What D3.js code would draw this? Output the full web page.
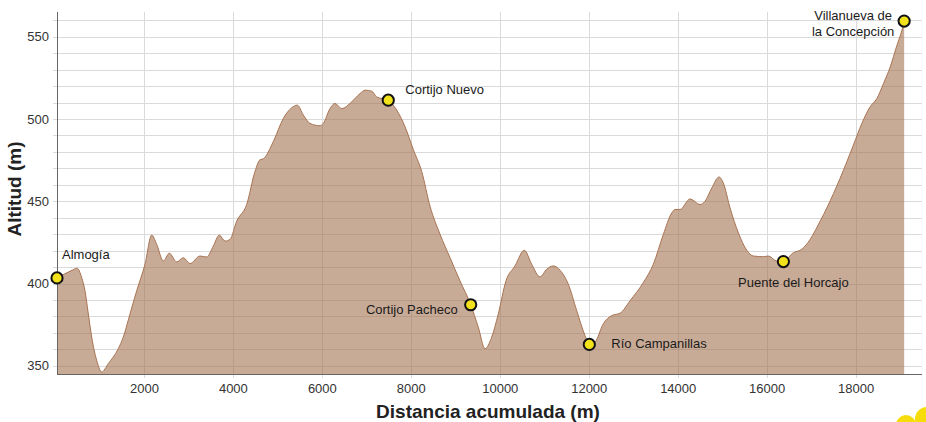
<!DOCTYPE html>
<html>
<head>
<meta charset="utf-8">
<script src="https://cdn.jsdelivr.net/npm/d3@7"></script>
<style>
  html, body { margin: 0; padding: 0; background: #fff; }
  svg { display: block; font-family: "Liberation Sans", Arial, sans-serif; }
  .grid line { stroke: #dadada; stroke-width: 1; }
  .tick-lab { font-size: 13px; fill: #333; }
  .wp-lab { font-size: 13px; fill: #1a1a1a; }
  .ax-title { font-size: 19px; font-weight: bold; fill: #222; }
</style>
</head>
<body>
<svg id="chart" width="926" height="422"></svg>
<script>
// elevation profile, distance (m) / altitude (m)
const dist = [35, 372, 485, 590, 664, 739, 815, 927, 1040, 1188, 1413, 1525, 1676, 1827, 2013, 2164,
  2276, 2425, 2560, 2726, 2874, 3025, 3250, 3400, 3549, 3683, 3812, 3924, 4075, 4299, 4486, 4598,
  4673, 4897, 5122, 5311, 5437, 5572, 5722, 5947, 6021, 6172, 6284, 6435, 6660, 6846, 6959, 7109,
  7222, 7482, 7671, 7858, 8045, 8233, 8420, 8645, 8870, 9094, 9335, 9506, 9656, 9807, 9955, 10128,
  10331, 10540, 10706, 10893, 11043, 11192, 11342, 11529, 11718, 11904, 12001, 12129, 12316, 12504,
  12691, 12916, 13216, 13440, 13665, 13854, 13928, 14041, 14266, 14490, 14603, 14754, 14918, 15015,
  15165, 15352, 15541, 15689, 15914, 16026, 16215, 16364, 16589, 16778, 16965, 17190, 17340, 17640,
  17939, 18128, 18314, 18465, 18614, 18764, 18915, 19027, 19079];
const alt = [403.4, 408, 409.3, 403.6, 395.6, 381.5, 367.4, 353.3, 346.2, 351.3, 360.4, 367.4, 381.5, 395.6, 411.7, 429.4,
  423.8, 413.7, 418.4, 413.1, 415.7, 412.1, 416.7, 416.1, 422.8, 429.4, 425.8, 426.8, 437.9, 448, 468.1, 475.2,
  475.8, 486.2, 500.3, 506.8, 508.4, 502.4, 497.3, 495.9, 497.3, 506.3, 509.4, 506.3, 510.4, 515.4, 517.5, 516.9,
  513.4, 511.4, 505.4, 495.3, 481.4, 468.1, 447, 430, 415.7, 401.6, 387.1, 373.4, 360.4, 367.4, 381.5, 401.6,
  410.7, 420.2, 411.7, 404, 408.7, 410.7, 408.1, 399.6, 383.5, 368.4, 363, 364.4, 375.5, 380.5,
  381.9, 389.5, 400.6, 411.7, 429.8, 442.9, 445, 445, 451.4, 448, 450, 458, 464.7, 461,
  445.9, 430.8, 420.2, 416.7, 416.3, 416.7, 413.7, 413.7, 418.7, 420.8, 426.8, 437.9, 445.9, 464,
  484.2, 497.3, 507.4, 512.4, 521.5, 531.5, 544.6, 553.7, 559];

// waypoints
const wpNames = ['Almogía', 'Cortijo Nuevo', 'Cortijo Pacheco', 'Río Campanillas', 'Puente del Horcajo', 'Villanueva de\nla Concepción'];
const wpDist = [35, 7482, 9335, 12001, 16364, 19079];
const wpAlt = [403.4, 511.4, 387.1, 363, 413.3, 559.5];

const xTicks = [2000, 4000, 6000, 8000, 10000, 12000, 14000, 16000, 18000];
const yTicks = [350, 400, 450, 500, 550];
const yGrid = d3.range(350, 561, 10);

// label placement relative to marker (px)
const wpLayout = [
  {dx: 5, dy: -19, anchor: 'start'},
  {dx: 17, dy: -6, anchor: 'start'},
  {dx: -13, dy: 9, anchor: 'end'},
  {dx: 22, dy: 4, anchor: 'start'},
  {dx: 10, dy: 25, anchor: 'middle'},
  {dx: -51, dy: -1, anchor: 'middle'}
];

const svg = d3.select('#chart');
const x = d3.scaleLinear().domain([35, 19480]).range([57, 922]);
const y = d3.scaleLinear().domain([345, 565]).range([374, 12]);

// grid
const grid = svg.append('g').attr('class', 'grid');
grid.selectAll('.hg').data(yGrid).join('line')
  .attr('x1', 53).attr('x2', 922)
  .attr('y1', d => Math.round(y(d)) + 0.5).attr('y2', d => Math.round(y(d)) + 0.5);
grid.selectAll('.vg').data(xTicks).join('line')
  .attr('y1', 12).attr('y2', 378)
  .attr('x1', d => Math.round(x(d)) + 0.5).attr('x2', d => Math.round(x(d)) + 0.5);

// profile area
const pts = dist.map((d, i) => [d, alt[i]]);
const area = d3.area().x(d => x(d[0])).y0(y(345)).y1(d => y(d[1])).curve(d3.curveMonotoneX);
const line = d3.line().x(d => x(d[0])).y(d => y(d[1])).curve(d3.curveMonotoneX);
svg.append('path').datum(pts).attr('d', area)
  .attr('fill', 'rgb(163,115,82)').attr('fill-opacity', 0.6);
svg.append('path').datum(pts).attr('d', line)
  .attr('fill', 'none').attr('stroke', '#a87352').attr('stroke-width', 1);

// axes lines
svg.append('line').attr('x1', 57.5).attr('x2', 57.5).attr('y1', 12).attr('y2', 374.5)
  .attr('stroke', '#666').attr('stroke-width', 1);
svg.append('line').attr('x1', 57).attr('x2', 922).attr('y1', 374.5).attr('y2', 374.5)
  .attr('stroke', '#666').attr('stroke-width', 1);

// tick labels
svg.selectAll('.ylab').data(yTicks).join('text')
  .attr('class', 'tick-lab').attr('text-anchor', 'end')
  .attr('x', 49).attr('y', d => y(d)).attr('dy', '0.35em')
  .text(d => d);
svg.selectAll('.xlab').data(xTicks).join('text')
  .attr('class', 'tick-lab').attr('text-anchor', 'middle')
  .attr('x', d => x(d)).attr('y', 393)
  .text(d => d);

// axis titles
svg.append('text').attr('class', 'ax-title').attr('text-anchor', 'middle')
  .attr('transform', 'translate(21,189) rotate(-90)').text('Altitud (m)');
svg.append('text').attr('class', 'ax-title').attr('text-anchor', 'middle')
  .attr('x', 488).attr('y', 418).text('Distancia acumulada (m)');

// waypoints
wpNames.forEach((name, i) => {
  const cx = x(wpDist[i]), cy = y(wpAlt[i]);
  const L = wpLayout[i];
  const t = svg.append('text').attr('class', 'wp-lab')
    .attr('text-anchor', L.anchor)
    .attr('x', cx + L.dx).attr('y', cy + L.dy);
  name.split('\n').forEach((s, j) => {
    t.append('tspan').attr('x', cx + L.dx).attr('dy', j ? 16 : 0).text(s);
  });
  svg.append('circle').attr('cx', cx).attr('cy', cy).attr('r', 5.6)
    .attr('fill', '#f2e21c').attr('stroke', '#111').attr('stroke-width', 2);
});

// corner logo fragment
svg.append('circle').attr('cx', 906).attr('cy', 425).attr('r', 10).attr('fill', '#f6dd0a');
svg.append('circle').attr('cx', 927).attr('cy', 419).attr('r', 12).attr('fill', '#f6dd0a');
</script>
</body>
</html>
